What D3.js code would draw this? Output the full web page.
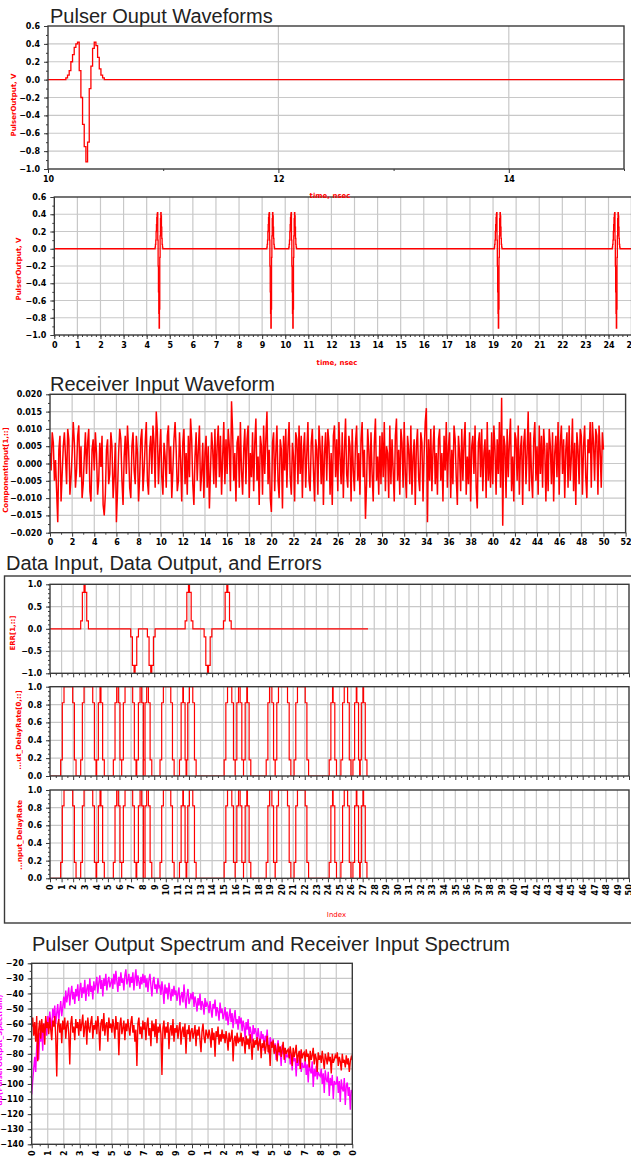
<!DOCTYPE html>
<html>
<head>
<meta charset="utf-8">
<script src="https://cdn.jsdelivr.net/npm/d3@7"></script>
<style>
body { margin: 0; background: #fff; }
svg { display: block; }
.tick text { font-family: "DejaVu Sans", sans-serif; font-weight: bold; font-size: 8px; fill: #000; }
.title { font-family: "Liberation Sans", Arial, sans-serif; font-size: 20px; fill: #222; }
.lab { font-family: "DejaVu Sans", sans-serif; font-weight: bold; font-size: 7px; }
</style>
</head>
<body>
<div id="chart"></div>
<script>
// ---- pulser output: one pulse shape and pulse start times
const pulseShape = [0.02, 0.05, 0.1, 0.2, 0.28, 0.36, 0.40, 0.42, 0.1, -0.2, -0.5, -0.75,
                    -0.92, -0.7, -0.1, 0.15, 0.35, 0.42, 0.38, 0.25, 0.12, 0.05, 0.02, 0];
const pulseStep = 0.0145;   // nsec between samples
const pulseStarts = [4.365, 9.205, 10.155, 19.055, 24.165];

// ---- receiver input waveform, in units of 0.001 V, one value every 0.1 nsec
const rxStep = 0.1;
const rxMilli = [
  3, -2, 9, 6, -5, 1, -8, -17, 4, 8, -11, -3, 5, 9, 2, -6, 10, 7, -9, -4, 3, 12, 6, -7, -2,
  8, 11, -4, 5, -10, -6, 2, 9, -3, 6, 10, -8, -11, 4, 7, -2, 9, 3, -9, -5, 6, -1, 8, -12, -15,
  -9, 4, 7, -6, -3, 9, 5, -10, -4, 6, -17, -8, 3, 10, 7, -5, -12, 2, 8, -3, 11, 4, -7, -10, 5,
  9, -2, -6, 8, 3, -11, -4, 7, 10, -8, -2, 6, 12, -5, -9, 4, 8, -3, 11, 6, -7, 15, 9, -6, 3,
  10, -4, -9, 6, 2, -7, 8, 11, -3, 5, -10, -2, 7, 12, 4, -8, -5, 9, 1, -11, 6, 10, -6, 3, -9,
  8, -4, 13, 7, -6, -12, 2, 9, -5, 4, 11, -8, -3, 6, -10, 3, 8, -7, 5, -13, -2, 9, 4, -6, 10,
  -7, 5, 11, -4, 8, -9, 2, 12, -6, 7, -3, 10, 5, -8, 18, 9, -5, 3, -11, 6, 8, -7, 12, -2, -9,
  4, 10, -6, 7, 11, -10, 3, -4, 9, -8, 6, 13, -5, 2, -12, 8, 5, -9, 11, -3, 7, 15, -6, 4, -10,
  -14, 6, 9, -8, 3, 11, -5, -10, 7, 4, -13, 8, -2, 10, -7, 5, 12, -4, -9, 6, 2, -11, 9, 7, -6,
  11, -3, 8, -10, 4, 9, -7, 3, 12, -5, -8, 6, 10, -2, -11, 7, 4, -9, 11, 5, -6, 8, -12, 3, 9,
  -5, 10, 6, -9, 3, -12, 8, 11, -4, 7, -8, 12, 2, -6, 9, -10, 4, 13, -3, -7, 8, 5, -11, 10, -2,
  -8, 6, 11, -5, 3, -9, 7, 12, -4, 4, -16, -6, 10, 4, -7, 9, -3, -11, 6, 13, -5, 2, -9, 8, -6,
  9, -4, 12, -8, 5, 3, -10, 11, -6, 7, -2, -11, 8, 13, -5, 4, -9, 10, 6, -7, 12, -3, -10, 8, 4,
  -6, 11, -9, 2, 7, -12, 5, 10, -4, -8, 9, 6, -11, 3, 12, 16, -17, 7, -5, 10, -8, 4, 11, -6, 3,
  -9, 7, 10, -5, 3, -11, 8, -2, 12, -7, 5, 9, -10, 4, -6, 11, 7, -4, -12, 8, 3, -8, 10, -5, 6,
  12, -9, 2, -6, 9, -11, 5, 8, -3, 11, -7, -13, 6, 9, -4, 10, -8, 3, 7, -10, 12, -5, 4, -7, 9,
  -6, 11, 4, -9, 7, -3, 12, -7, 19, -18, 8, 5, -10, 10, -4, 6, 13, -8, 2, -11, 9, 7, -5, 11, -9,
  4, 8, -12, 6, 10, -6, 3, 15, -8, 9, -4, -10, 7, 12, -5, 5, -9, 11, -3, 8, -7, 10, 4, -11, 6,
  -8, 10, 5, -6, 9, -11, 3, 8, -4, 12, -9, 6, 11, -3, 7, -10, 4, 9, -7, 11, -5, 2, 13, -8, 6,
  -12, 9, 4, -6, 10, 8, -9, 5, 11, -4, -10, 7, 3, 12, -7, 12, 6, -5, 10, 8, -9, 11, 4, -7, 9, 4
];

// ---- data input / output (index units): where the bit stream sits at 1
const dataHighStart = [1.21, 2.94, 4.32, 5.76, 6.48, 7.78, 8.35, 9.79, 11.47, 12.04,
                       15.33, 16.28, 17.0, 18.96, 19.73, 21.37, 24.40, 25.41, 26.45, 27.03];
const dataHighEnd   = [1.96, 3.69, 4.40, 5.90, 7.14, 7.92, 8.50, 10.43, 11.52, 12.33,
                       15.70, 16.42, 17.05, 19.16, 20.51, 22.04, 24.45, 25.70, 26.50, 27.08];
const dataEnd = 27.46;
const rampLevels = [0.18, 0.82];
const rampStep = 0.145;
// error pulses
const errCenters = [2.94, 7.26, 8.70, 11.96, 13.6, 15.27];
const errSigns = [1, -1, -1, 1, -1, 1];

// ---- spectra in dB, one value every 0.0625 on the x axis (16 per unit)
const specStep = 0.0625;
const pulserSpec = [
  -107, -98, -90, -82, -92, -75, -70, -84, -66, -72, -62, -78, -60, -64, -58, -68,
  -55, -62, -52, -58, -65, -50, -56, -48, -60, -53, -47, -58, -51, -45, -55, -49,
  -42, -50, -38, -46, -41, -36, -48, -40, -35, -44, -39, -47, -37, -42, -34, -45,
  -38, -33, -43, -36, -40, -31, -45, -37, -34, -42, -30, -39, -35, -44, -32, -38,
  -34, -29, -40, -33, -28, -37, -31, -42, -30, -35, -27, -38, -32, -29, -36, -33,
  -30, -37, -27, -34, -25, -32, -39, -29, -35, -26, -33, -30, -38, -28, -24, -34,
  -31, -27, -36, -29, -33, -26, -38, -30, -24, -35, -28, -32, -37, -29, -34, -27,
  -33, -28, -36, -30, -39, -31, -27, -35, -42, -32, -29, -37, -34, -40, -30, -36,
  -35, -41, -32, -38, -47, -34, -40, -36, -44, -33, -39, -45, -37, -42, -35, -41,
  -38, -45, -40, -36, -48, -42, -39, -46, -34, -43, -50, -41, -37, -47, -44, -40,
  -44, -39, -49, -42, -46, -52, -43, -48, -40, -51, -45, -47, -54, -43, -49, -46,
  -48, -53, -45, -51, -56, -47, -50, -44, -55, -49, -52, -58, -46, -53, -50, -57,
  -54, -49, -58, -52, -61, -55, -50, -59, -53, -63, -56, -51, -60, -57, -64, -55,
  -60, -56, -65, -58, -62, -70, -59, -64, -57, -68, -62, -66, -72, -61, -67, -63,
  -66, -71, -63, -69, -75, -65, -70, -67, -78, -68, -72, -64, -74, -80, -69, -73,
  -76, -70, -79, -73, -84, -75, -71, -81, -77, -88, -74, -80, -76, -86, -78, -82,
  -82, -77, -87, -80, -91, -79, -85, -83, -95, -81, -88, -84, -78, -92, -86, -89,
  -89, -84, -94, -87, -99, -86, -91, -93, -85, -102, -90, -95, -88, -97, -92, -94,
  -95, -90, -100, -93, -106, -91, -97, -99, -92, -108, -96, -101, -94, -110, -98, -100,
  -100, -95, -106, -98, -112, -97, -103, -105, -96, -114, -101, -99, -108, -102, -117, -104,
  -106
];
const receiverSpec = [
  -62, -56, -68, -59, -72, -55, -85, -64, -58, -70, -57, -66, -60, -74, -55, -63,
  -59, -67, -56, -64, -71, -58, -62, -55, -69, -95, -61, -57, -66, -60, -73, -58,
  -64, -56, -70, -61, -58, -67, -87, -60, -55, -66, -62, -71, -57, -63, -59, -68,
  -57, -65, -60, -54, -69, -62, -58, -74, -56, -63, -66, -59, -55, -70, -61, -64,
  -58, -67, -55, -62, -78, -60, -57, -65, -53, -68, -61, -59, -72, -56, -63, -60,
  -66, -57, -62, -70, -55, -64, -59, -81, -61, -56, -67, -63, -58, -71, -60, -65,
  -57, -63, -68, -59, -55, -66, -61, -72, -64, -88, -60, -56, -67, -62, -70, -58,
  -64, -59, -71, -61, -56, -68, -63, -75, -58, -65, -60, -69, -57, -73, -62, -66,
  -60, -67, -94, -63, -58, -70, -62, -66, -59, -77, -64, -61, -68, -57, -72, -63,
  -66, -61, -70, -63, -59, -74, -65, -62, -69, -60, -80, -64, -67, -61, -72, -65,
  -63, -70, -66, -61, -75, -64, -68, -62, -71, -79, -65, -60, -69, -73, -64, -67,
  -70, -64, -68, -76, -63, -71, -66, -82, -65, -69, -62, -74, -67, -72, -64, -70,
  -67, -73, -65, -70, -78, -66, -72, -69, -64, -85, -71, -68, -75, -66, -73, -70,
  -72, -66, -75, -69, -71, -80, -68, -74, -70, -77, -67, -73, -84, -70, -76, -71,
  -74, -69, -78, -72, -70, -83, -73, -76, -71, -80, -75, -68, -79, -74, -88, -72,
  -76, -71, -80, -74, -78, -85, -73, -79, -75, -82, -77, -72, -84, -76, -80, -78,
  -77, -83, -75, -80, -88, -76, -82, -79, -74, -86, -81, -78, -90, -77, -83, -80,
  -79, -85, -77, -82, -80, -89, -78, -84, -81, -76, -87, -80, -83, -92, -79, -84,
  -81, -86, -78, -84, -90, -80, -83, -87, -79, -85, -82, -93, -80, -86, -84, -81,
  -83, -79, -88, -82, -85, -91, -80, -86, -84, -89, -81, -87, -83, -92, -85, -82,
  -84
];

// ---- tick labels
const pulseTopTicks = [10, 12, 14];
const pulseTicks = d3.range(0, 26);
const voltTicks = [0.6, 0.4, 0.2, 0.0, -0.2, -0.4, -0.6, -0.8, -1.0];
const rxTimeTicks = d3.range(0, 53, 2);
const rxTicks = [0.020, 0.015, 0.010, 0.005, 0.000, -0.005, -0.010, -0.015, -0.020];
const errTicks = [1.0, 0.5, 0.0, -0.5, -1.0];
const bitTicks = [1.0, 0.8, 0.6, 0.4, 0.2, 0.0];
const indexTicks = d3.range(0, 51);
const dbTicks = d3.range(-20, -141, -10);
const freqTicks = d3.range(0, 21);

const W = 631, H = 1156;
const red = "#ff0000", magenta = "#ff00ff", gridColor = "#c8c8c8", frameColor = "#3a3a3a";

const svg = d3.select("#chart").append("svg")
    .attr("width", W)
    .attr("height", H);

let clipCount = 0;
function panel(xDomain, xRange, yDomain, yRange) {
    const x = d3.scaleLinear().domain(xDomain).range(xRange);
    const y = d3.scaleLinear().domain(yDomain).range(yRange);
    const g = svg.append("g");
    const id = "clip" + (clipCount++);
    g.append("clipPath").attr("id", id).append("rect")
        .attr("x", xRange[0]).attr("y", yRange[1])
        .attr("width", xRange[1] - xRange[0]).attr("height", yRange[0] - yRange[1]);
    const gridG = g.append("g");
    const plot = g.append("g").attr("clip-path", "url(#" + id + ")");
    return { x, y, g, gridG, plot };
}

function grid(p, xs, ys) {
    const [yb, yt] = p.y.range(), [xl, xr] = p.x.range();
    p.gridG.selectAll(".vg").data(xs).join("line")
        .attr("x1", d => p.x(d)).attr("x2", d => p.x(d))
        .attr("y1", yb).attr("y2", yt)
        .attr("stroke", gridColor).attr("stroke-width", 1.2);
    p.gridG.selectAll(".hg").data(ys).join("line")
        .attr("x1", xl).attr("x2", xr)
        .attr("y1", d => p.y(d)).attr("y2", d => p.y(d))
        .attr("stroke", gridColor).attr("stroke-width", 1.2);
}

function frame(p) {
    const [yb, yt] = p.y.range(), [xl, xr] = p.x.range();
    p.g.append("rect")
        .attr("x", xl).attr("y", yt).attr("width", xr - xl).attr("height", yb - yt)
        .attr("fill", "none").attr("stroke", frameColor).attr("stroke-width", 1.4);
}

function styleAxis(sel) {
    sel.select(".domain").remove();
    sel.selectAll(".tick line").attr("stroke", frameColor);
}

function leftAxis(p, major, fmt, minor) {
    const x0 = p.x.range()[0];
    p.g.append("g").attr("transform", `translate(${x0},0)`)
        .call(d3.axisLeft(p.y).tickValues(minor).tickFormat("").tickSize(2)).call(styleAxis);
    p.g.append("g").attr("transform", `translate(${x0},0)`)
        .call(d3.axisLeft(p.y).tickValues(major).tickFormat(fmt).tickSize(4).tickPadding(4)).call(styleAxis);
}

function bottomAxis(p, major, fmt, minor, rotate) {
    const y0 = p.y.range()[0];
    p.g.append("g").attr("transform", `translate(0,${y0})`)
        .call(d3.axisBottom(p.x).tickValues(minor).tickFormat("").tickSize(2)).call(styleAxis);
    const a = p.g.append("g").attr("transform", `translate(0,${y0})`)
        .call(d3.axisBottom(p.x).tickValues(major).tickFormat(fmt).tickSize(4).tickPadding(3)).call(styleAxis);
    if (rotate) {
        a.selectAll(".tick text")
            .attr("transform", "rotate(-90)")
            .attr("text-anchor", "end")
            .attr("x", -6).attr("y", 0).attr("dy", "0.35em");
    }
}

function title(txt, x, y) {
    svg.append("text").attr("class", "title").attr("x", x).attr("y", y).text(txt);
}

function vLabel(txt, x, y, color) {
    svg.append("text").attr("class", "lab")
        .attr("transform", `translate(${x},${y}) rotate(-90)`)
        .attr("text-anchor", "middle").attr("fill", color).text(txt);
}

function hLabel(txt, x, y, color, weight) {
    svg.append("text").attr("class", "lab")
        .attr("x", x).attr("y", y).attr("text-anchor", "middle")
        .attr("fill", color).style("font-weight", weight || "bold").text(txt);
}

// ---------------- pulser waveform points
const wave = [{ t: 0, v: 0 }];
pulseStarts.forEach(s => {
    pulseShape.forEach((v, k) => wave.push({ t: s + k * pulseStep, v: v }));
});
wave.push({ t: 25, v: 0 });

// Panel 1: zoom on 10..15 nsec
title("Pulser Ouput Waveforms", 50, 22.5);
const p1 = panel([10, 15], [48, 624], [-1, 0.6], [169, 26]);
grid(p1, [12, 14], d3.range(-0.8, 0.6, 0.2));
p1.plot.append("path").datum(wave)
    .attr("fill", "none").attr("stroke", red).attr("stroke-width", 1.3)
    .attr("d", d3.line().x(d => p1.x(d.t)).y(d => p1.y(d.v)).curve(d3.curveStepAfter));
frame(p1);
leftAxis(p1, voltTicks, d3.format(".1f"), d3.range(-1, 0.61, 0.1));
bottomAxis(p1, pulseTopTicks, d3.format("d"), [11, 13, 15]);
vLabel("PulserOutput, V", 16, 105, red);

// Panel 2: full 0..25 nsec
const p2 = panel([0, 25], [54.3, 631.6], [-1, 0.6], [335, 197]);
grid(p2, d3.range(1, 25), d3.range(-0.8, 0.6, 0.2));
p2.plot.append("path").datum(wave)
    .attr("fill", "none").attr("stroke", red).attr("stroke-width", 1.3)
    .attr("d", d3.line().x(d => p2.x(d.t)).y(d => p2.y(d.v)).curve(d3.curveStepAfter));
frame(p2);
leftAxis(p2, voltTicks, d3.format(".1f"), d3.range(-1, 0.61, 0.1));
bottomAxis(p2, pulseTicks, d3.format("d"), d3.range(0, 25.01, 0.2));
vLabel("PulserOutput, V", 20.5, 269, red);
hLabel("time, nsec", 330, 197.5, red);
hLabel("time, nsec", 337, 364.5, red);

// Panel 3: receiver input
title("Receiver Input Waveform", 50, 390.5);
const p3 = panel([0, 52], [50, 625.6], [-0.02, 0.02], [532.7, 394.3]);
grid(p3, d3.range(2, 52, 2), d3.range(-0.015, 0.02, 0.005));
p3.plot.append("path").datum(rxMilli)
    .attr("fill", "none").attr("stroke", red).attr("stroke-width", 1.5)
    .attr("d", d3.line().x((d, i) => p3.x(i * rxStep)).y(d => p3.y(d / 1000)));
frame(p3);
leftAxis(p3, rxTicks, d3.format(".3f"), d3.range(-0.02, 0.0201, 0.0025));
bottomAxis(p3, rxTimeTicks, d3.format("d"), d3.range(1, 52, 2));
vLabel("ComponentInput[1,::]", 7.5, 470, red);

// Panel 4: data input, output and errors
title("Data Input, Data Output, and Errors", 6, 570);
svg.append("rect").attr("x", 4.5).attr("y", 576).attr("width", 640).attr("height", 347)
    .attr("fill", "none").attr("stroke", frameColor).attr("stroke-width", 1.4);

const bitWave = [{ t: 0, v: 0 }];
dataHighStart.forEach((a, i) => {
    const b = dataHighEnd[i];
    bitWave.push({ t: a - 2 * rampStep, v: rampLevels[0] });
    bitWave.push({ t: a - rampStep, v: rampLevels[1] });
    bitWave.push({ t: a, v: 1 });
    bitWave.push({ t: b, v: rampLevels[1] });
    bitWave.push({ t: b + rampStep, v: rampLevels[0] });
    bitWave.push({ t: b + 2 * rampStep, v: 0 });
});
bitWave.push({ t: dataEnd, v: 0 });

const errWave = [{ t: 0, v: 0 }];
errCenters.forEach((c, i) => {
    const s = errSigns[i];
    errWave.push({ t: c - 2 * rampStep, v: s * rampLevels[0] });
    errWave.push({ t: c - rampStep, v: s * rampLevels[1] });
    errWave.push({ t: c, v: s });
    errWave.push({ t: c + rampStep * 0.6, v: s * rampLevels[1] });
    errWave.push({ t: c + rampStep * 1.6, v: s * rampLevels[0] });
    errWave.push({ t: c + rampStep * 2.6, v: 0 });
});
errWave.push({ t: dataEnd, v: 0 });

const pe = panel([0, 50], [50, 629], [-1, 1], [673.3, 584.3]);
grid(pe, d3.range(1, 50), [-0.5, 0, 0.5]);
pe.plot.append("path").datum(errWave)
    .attr("fill", "none").attr("stroke", red).attr("stroke-width", 1.2)
    .attr("d", d3.line().x(d => pe.x(d.t)).y(d => pe.y(d.v)).curve(d3.curveStepAfter));
frame(pe);
leftAxis(pe, errTicks, d3.format(".1f"), d3.range(-1, 1.01, 0.1));
bottomAxis(pe, indexTicks, "", d3.range(0.5, 50, 1));
vLabel("ERR[1,::]", 15, 633, red);

const pm = panel([0, 50], [50, 629], [0, 1], [776, 686.7]);
grid(pm, d3.range(1, 50), [0.2, 0.4, 0.6, 0.8]);
pm.plot.append("path").datum(bitWave)
    .attr("fill", "none").attr("stroke", red).attr("stroke-width", 1.2)
    .attr("d", d3.line().x(d => pm.x(d.t)).y(d => pm.y(d.v)).curve(d3.curveStepAfter));
frame(pm);
leftAxis(pm, bitTicks, d3.format(".1f"), d3.range(0, 1.01, 0.05));
bottomAxis(pm, indexTicks, "", d3.range(0.5, 50, 1));
vLabel("...ut_DelayRate[0,::]", 20.5, 730, red);

const pb = panel([0, 50], [50, 629], [0, 1], [878.3, 790]);
grid(pb, d3.range(1, 50), [0.2, 0.4, 0.6, 0.8]);
pb.plot.append("path").datum(bitWave)
    .attr("fill", "none").attr("stroke", red).attr("stroke-width", 1.2)
    .attr("d", d3.line().x(d => pb.x(d.t)).y(d => pb.y(d.v)).curve(d3.curveStepAfter));
frame(pb);
leftAxis(pb, bitTicks, d3.format(".1f"), d3.range(0, 1.01, 0.05));
bottomAxis(pb, indexTicks, d3.format("d"), d3.range(0.5, 50, 1), true);
vLabel("...nput_DelayRate", 21.5, 835, red);
hLabel("Index", 336.5, 917, red, "normal");

// Panel 5: spectra
title("Pulser Output Spectrum and Receiver Input Spectrum", 32, 950.5);
const p5 = panel([0, 20], [31.7, 352.3], [-140, -20], [1144.3, 963.3]);
grid(p5, d3.range(1, 20), d3.range(-130, -20, 10));
p5.plot.append("path").datum(pulserSpec)
    .attr("fill", "none").attr("stroke", magenta).attr("stroke-width", 1.4)
    .attr("d", d3.line().x((d, i) => p5.x(i * specStep)).y(d => p5.y(d)));
p5.plot.append("path").datum(receiverSpec)
    .attr("fill", "none").attr("stroke", red).attr("stroke-width", 1.4)
    .attr("d", d3.line().x((d, i) => p5.x(i * specStep)).y(d => p5.y(d)));
frame(p5);
leftAxis(p5, dbTicks, d3.format("d"), d3.range(-140, -19, 5));
bottomAxis(p5, freqTicks, d3.format("d"), d3.range(0.5, 20, 1), true);
vLabel("dB(PulserOutput_Spectrum)", 2, 1050, magenta);
</script>
</body>
</html>
